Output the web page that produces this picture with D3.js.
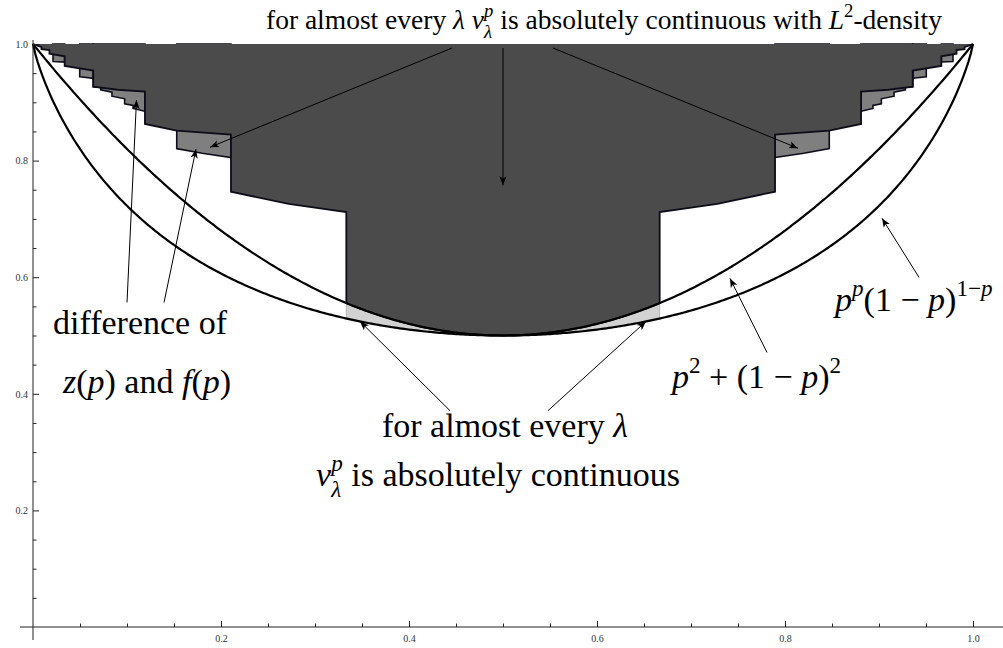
<!DOCTYPE html>
<html>
<head>
<meta charset="utf-8">
<script src="https://cdn.jsdelivr.net/npm/d3@7"></script>
<style>
  body { margin: 0; background: #fff; }
  svg { display: block; }
  text { white-space: pre; font-family: "Liberation Serif", "DejaVu Serif", "Noto Serif", "Times New Roman", serif; }
</style>
</head>
<body>
<svg id="chart" width="1003" height="648"></svg>
<script>
// Bias p on the horizontal axis, contraction ratio λ on the vertical axis.
const xMajorTicks = [0.2, 0.4, 0.6, 0.8, 1.0];
const xTickLabels = ["0.2", "0.4", "0.6", "0.8", "1.0"];
const yMajorTicks = [0.2, 0.4, 0.6, 0.8, 1.0];
const yTickLabels = ["0.2", "0.4", "0.6", "0.8", "1.0"];
const minorTicks = [0.05, 0.1, 0.15, 0.25, 0.3, 0.35, 0.45, 0.5, 0.55, 0.65, 0.7, 0.75, 0.85, 0.9, 0.95];

// Lower edge z(p) of the dark region for 0 <= p <= 1/3 (repeated p = vertical jump).
// The edge for 2/3 <= p <= 1 is its mirror image p -> 1 - p.
const zEdgeLeft = [
  [0.0000, 1.0000], [0.0090, 0.9945],
  [0.0090, 0.9910], [0.0175, 0.9895],
  [0.0175, 0.9835], [0.0337, 0.9790],
  [0.0337, 0.9625], [0.0641, 0.9545],
  [0.0641, 0.9268], [0.0900, 0.9215], [0.1191, 0.9182],
  [0.1191, 0.8628], [0.1529, 0.8513], [0.2106, 0.8445],
  [0.2106, 0.7467], [0.2720, 0.7256], [0.3333, 0.7118]
];

// Lower edges f(p) where f lies below z (left half); filled mid grey between f and z.
const fPiecesLeft = [
  [[0.0213, 0.9700], [0.0337, 0.9690]],
  [[0.0497, 0.9437], [0.0641, 0.9412]],
  [[0.0641, 0.9268], [0.0720, 0.9255], [0.0720, 0.9215], [0.0840, 0.9175], [0.0840, 0.9105],
   [0.0975, 0.9060], [0.0975, 0.8975], [0.1065, 0.8945], [0.1065, 0.8895], [0.1191, 0.8845]],
  [[0.1529, 0.8205], [0.1800, 0.8125], [0.2106, 0.8053]]
];

// The two bounding curves named in the labels.
const squareSum = p => p * p + (1 - p) * (1 - p);                  // p^2 + (1-p)^2
const entropyCurve = p => Math.pow(p, p) * Math.pow(1 - p, 1 - p); // p^p (1-p)^(1-p)
const middleRange = [1 / 3, 2 / 3];
const curveSamples = d3.range(0, 1.0001, 0.0025);

// Annotation arrows: [p0, λ0, p1, λ1], tail to tip.
const arrows = [
  [0.4457, 0.9931, 0.1883, 0.8230],
  [0.5000, 0.9931, 0.5000, 0.7577],
  [0.5532, 0.9931, 0.8138, 0.8213],
  [0.1000, 0.5567, 0.1101, 0.9038],
  [0.1394, 0.5567, 0.1734, 0.8196],
  [0.4436, 0.3711, 0.3479, 0.5241],
  [0.5479, 0.3711, 0.6521, 0.5241],
  [0.7809, 0.4708, 0.7415, 0.5979],
  [0.9426, 0.5997, 0.9032, 0.7010]
];

const svg = d3.select("#chart");
const x = d3.scaleLinear().domain([0, 1]).range([33, 973]);
const y = d3.scaleLinear().domain([0, 1]).range([627, 44]);
const mirror = pts => pts.map(([p, v]) => [1 - p, v]).reverse();
const line = d3.line().x(d => x(d[0])).y(d => y(d[1]));

const DARK = "#4b4b4b", MID = "#7f7f7f", LIGHT = "#d2d2d2", EDGE = "#0d0d1a";

// mid grey pieces (upper parts get covered by the dark region)
const allPieces = fPiecesLeft.concat(fPiecesLeft.map(mirror));
allPieces.forEach(piece => {
  const p0 = piece[0][0], p1 = piece[piece.length - 1][0];
  const poly = piece.concat([[p1, 1], [p0, 1]]);
  svg.append("path").attr("d", line(poly) + "Z")
    .attr("fill", MID).attr("stroke", EDGE).attr("stroke-width", 1.6)
    .attr("stroke-linejoin", "miter");
});

// light grey band between the two curves on [1/3, 2/3]
const mid = curveSamples.filter(p => p > middleRange[0] && p < middleRange[1]);
const midP = [middleRange[0]].concat(mid, [middleRange[1]]);
const band = midP.map(p => [p, squareSum(p)]).concat(midP.slice().reverse().map(p => [p, entropyCurve(p)]));
svg.append("path").attr("d", line(band) + "Z")
  .attr("fill", LIGHT).attr("stroke", "#a8a8a8").attr("stroke-width", 0.8);

// dark region: from λ = 1 down to z(p)
const zEdge = zEdgeLeft.concat(midP.map(p => [p, squareSum(p)]), mirror(zEdgeLeft));
svg.append("path").attr("d", line(zEdge.concat([[1, 1], [0, 1]])) + "Z")
  .attr("fill", DARK).attr("stroke", "none");
svg.append("path").attr("d", line(zEdge))
  .attr("fill", "none").attr("stroke", EDGE).attr("stroke-width", 1.8)
  .attr("stroke-linejoin", "miter");

// bounding curves
[squareSum, entropyCurve].forEach(fn => {
  svg.append("path").attr("d", line(curveSamples.map(p => [p, fn(p)])))
    .attr("fill", "none").attr("stroke", "#000").attr("stroke-width", 2.2);
});

// axes (ticks pointing inwards)
const axisColor = "#222";
const xAxisY = y(0), yAxisX = x(0);
svg.append("line").attr("x1", 20).attr("x2", 1003).attr("y1", xAxisY).attr("y2", xAxisY)
  .attr("stroke", axisColor).attr("stroke-width", 1);
svg.append("line").attr("x1", yAxisX).attr("x2", yAxisX).attr("y1", 40).attr("y2", 640)
  .attr("stroke", axisColor).attr("stroke-width", 1);

const xMajor = svg.append("g").attr("transform", `translate(0,${xAxisY})`)
  .call(d3.axisBottom(x).tickValues(xMajorTicks).tickFormat((d, i) => xTickLabels[i]).tickSizeInner(-6).tickSizeOuter(0).tickPadding(8));
const xMinor = svg.append("g").attr("transform", `translate(0,${xAxisY})`)
  .call(d3.axisBottom(x).tickValues(minorTicks).tickFormat("").tickSizeInner(-3.5).tickSizeOuter(0));
const yMajor = svg.append("g").attr("transform", `translate(${yAxisX},0)`)
  .call(d3.axisLeft(y).tickValues(yMajorTicks).tickFormat((d, i) => yTickLabels[i]).tickSizeInner(-6).tickSizeOuter(0).tickPadding(5));
const yMinor = svg.append("g").attr("transform", `translate(${yAxisX},0)`)
  .call(d3.axisLeft(y).tickValues(minorTicks).tickFormat("").tickSizeInner(-3.5).tickSizeOuter(0));
[xMajor, xMinor, yMajor, yMinor].forEach(g => {
  g.attr("font-family", null);
  g.select(".domain").remove();
  g.selectAll(".tick line").attr("stroke", axisColor);
  g.selectAll("text").attr("font-size", 10).attr("fill", "#333");
});

// arrows
const defs = svg.append("defs");
defs.append("marker").attr("id", "head").attr("viewBox", "0 0 10 10")
  .attr("refX", 10).attr("refY", 5).attr("markerWidth", 9).attr("markerHeight", 9)
  .attr("markerUnits", "userSpaceOnUse").attr("orient", "auto")
  .append("path").attr("d", "M0,1 L10,5 L0,9 L2.5,5 Z").attr("fill", "#000");
arrows.forEach(([p0, v0, p1, v1]) => {
  svg.append("line").attr("x1", x(p0)).attr("y1", y(v0)).attr("x2", x(p1)).attr("y2", y(v1))
    .attr("stroke", "#000").attr("stroke-width", 1).attr("marker-end", "url(#head)");
});

// rich text with italic math, superscripts and subscripts
function rich(px, py, runs, size, anchor) {
  const g = svg.append("g").attr("fill", "#000");
  let cx = 0, prevStart = 0;
  runs.forEach(r => {
    const small = r.sup || r.sub;
    const fs = small ? size * 0.68 : size;
    const dy = r.sup ? -size * 0.44 : r.sub ? size * 0.32 : 0;
    const sx = r.stack ? prevStart : cx;
    const t = g.append("text").attr("x", sx).attr("y", dy).attr("font-size", fs)
      .attr("font-style", r.i ? "italic" : "normal").text(r.t);
    const w = t.node().getComputedTextLength();
    if (r.stack) cx = Math.max(cx, sx + w);
    else { prevStart = sx; cx = sx + w; }
  });
  const off = anchor === "middle" ? -cx / 2 : anchor === "end" ? -cx : 0;
  g.attr("transform", `translate(${px + off},${py})`);
}

const TITLE = 27.5, LABEL = 34;
rich(604, 29, [
  { t: "for almost every " }, { t: "λ", i: true }, { t: " " }, { t: "ν", i: true },
  { t: "p", i: true, sup: true }, { t: "λ", i: true, sub: true, stack: true },
  { t: " is absolutely continuous with " }, { t: "L", i: true }, { t: "2", sup: true }, { t: "-density" }
], TITLE, "middle");
rich(140, 334, [{ t: "difference of" }], LABEL, "middle");
rich(147, 393, [
  { t: "z", i: true }, { t: "(" }, { t: "p", i: true }, { t: ") and " },
  { t: "f", i: true }, { t: "(" }, { t: "p", i: true }, { t: ")" }
], LABEL, "middle");
rich(505, 437, [{ t: "for almost every " }, { t: "λ", i: true }], LABEL, "middle");
rich(498, 486, [
  { t: "ν", i: true }, { t: "p", i: true, sup: true }, { t: "λ", i: true, sub: true, stack: true },
  { t: " is absolutely continuous" }
], LABEL, "middle");
rich(672, 388, [
  { t: "p", i: true }, { t: "2", sup: true }, { t: " + (1 − " }, { t: "p", i: true }, { t: ")" }, { t: "2", sup: true }
], LABEL, "start");
rich(835, 311, [
  { t: "p", i: true }, { t: "p", i: true, sup: true }, { t: "(1 − " }, { t: "p", i: true }, { t: ")" },
  { t: "1−", sup: true }, { t: "p", i: true, sup: true }
], LABEL, "start");
</script>
</body>
</html>
